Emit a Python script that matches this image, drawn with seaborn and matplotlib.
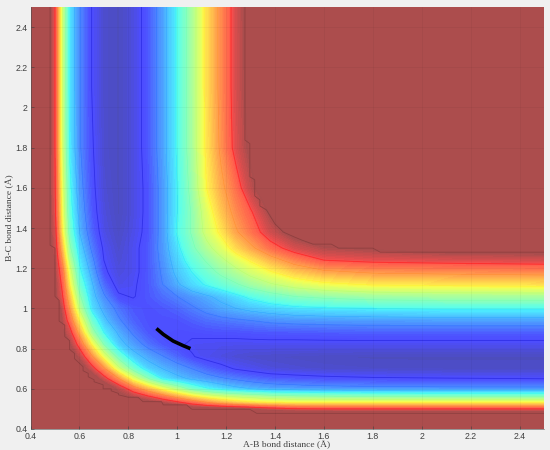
import numpy as np
import pandas as pd
import matplotlib
matplotlib.use("Agg")
import matplotlib.pyplot as plt
from matplotlib.colors import ListedColormap
import seaborn as sns

grid_r = [.40,.47,.50,.53,.56,.60,.65,.70,.76,.82,.88,.94,1.00,1.06,1.12,1.18,1.24,1.30,1.38,1.48,1.60,1.80,2.10,2.50]

surface = [
 [2,2,2,2,2,2,2,2,2,2,2,2,2,2,2,2,2,2,2,2,2,2,2,2],
 [2,2,2,2,2,2,1.95,1.85,1.7,1.55,1.44,1.33,1.27,1.22,1.18,1.15,1.13,1.12,1.10,1.09,1.08,1.07,1.07,1.07],
 [2,2,2,1.95,1.85,1.75,1.65,1.55,1.45,1.35,1.25,1.15,1.08,1.02,1.01,1.0,.99,.97,.93,.90,.89,.89,.89,.89],
 [2,2,1.95,1.85,1.75,1.65,1.5,1.35,1.2,1.07,1.02,.97,.92,.86,.80,.75,.71,.68,.66,.65,.65,.65,.65,.65],
 [2,2,1.9,1.75,1.65,1.55,1.4,1.15,1.02,.97,.91,.84,.76,.68,.62,.58,.55,.53,.50,.48,.47,.46,.45,.45],
 [2,1.95,1.8,1.65,1.5,1.35,1.2,1.07,.96,.84,.73,.62,.52,.42,.36,.32,.29,.27,.25,.24,.23,.225,.22,.22],
 [2,1.85,1.65,1.5,1.35,1.2,1.05,.93,.79,.61,.46,.34,.29,.26,.235,.21,.19,.17,.15,.14,.13,.12,.115,.11],
 [2,1.7,1.5,1.35,1.22,1.05,.93,.80,.58,.42,.31,.27,.235,.20,.16,.13,.105,.09,.07,.06,.05,.045,.04,.04],
 [2,1.6,1.4,1.22,1.05,.96,.80,.61,.42,.30,.25,.205,.16,.115,.09,.075,.06,.05,.045,.04,.035,.03,.03,.03],
 [2,1.5,1.25,1.1,.99,.86,.65,.45,.30,.24,.18,.14,.12,.10,.095,.09,.09,.09,.09,.09,.09,.09,.09,.09],
 [2,1.35,1.2,1.0,.93,.75,.50,.35,.26,.19,.14,.125,.12,.12,.125,.13,.13,.135,.14,.14,.145,.15,.15,.15],
 [2,1.3,1.15,.97,.85,.65,.41,.29,.21,.155,.13,.13,.13,.15,.17,.18,.19,.20,.215,.225,.23,.235,.24,.24],
 [2,1.3,1.1,.94,.78,.54,.33,.25,.18,.14,.13,.14,.16,.19,.22,.25,.27,.29,.31,.33,.34,.35,.36,.36],
 [2,1.25,1.0,.90,.72,.47,.30,.21,.12,.105,.14,.17,.20,.23,.26,.29,.33,.37,.41,.45,.47,.49,.50,.50],
 [2,1.2,1.0,.87,.65,.41,.28,.165,.085,.10,.14,.20,.26,.32,.36,.40,.44,.49,.54,.59,.63,.66,.67,.68],
 [2,1.15,.98,.84,.60,.37,.25,.125,.07,.09,.14,.21,.29,.35,.41,.47,.52,.58,.64,.71,.76,.79,.80,.81],
 [2,1.1,.97,.78,.53,.34,.22,.11,.06,.09,.14,.22,.31,.39,.46,.53,.60,.66,.74,.82,.89,.91,.92,.93],
 [2,1.03,.95,.72,.47,.31,.19,.10,.05,.09,.14,.23,.33,.43,.52,.60,.69,.76,.85,.93,.98,1.0,1.03,1.04],
 [2,1.03,.93,.65,.42,.27,.16,.08,.04,.08,.13,.23,.36,.46,.58,.67,.77,.84,.94,1.03,1.09,1.13,1.16,1.18],
 [2,1.03,.91,.62,.39,.25,.14,.07,.03,.07,.13,.23,.35,.46,.60,.72,.81,.88,1.0,1.08,1.2,1.3,1.35,1.36],
 [2,1.03,.90,.60,.37,.23,.13,.06,.03,.07,.13,.23,.35,.48,.65,.76,.85,.96,1.07,1.17,1.25,1.30,1.34,1.45],
 [2,1.04,.89,.57,.34,.21,.12,.05,.03,.07,.14,.24,.36,.50,.67,.80,.92,1.01,1.12,1.24,1.32,1.40,1.45,1.6],
 [2,1.04,.89,.56,.33,.21,.11,.05,.03,.07,.14,.24,.36,.50,.68,.81,.93,1.03,1.17,1.30,1.42,1.55,1.65,1.7],
 [2,1.04,.89,.56,.33,.21,.11,.05,.03,.07,.14,.24,.36,.50,.68,.81,.93,1.04,1.18,1.32,1.45,1.6,1.7,1.8],
]

path_ab = [.915,.943,.983,1.024,1.054]
path_bc = [.90,.871,.838,.815,.80]

inner_x = [.48,.48,.50,.50,.517,.517,.54,.54,.56,.56,.58,.58,.615,.615,.636,.636,.66,.66,.697,.697,.73,.73,.76,.76,.80,.84,.86,.936,.943,1.038,1.06,1.297,1.325,2.5]
inner_y = [2.5,1.315,1.30,1.06,1.04,.937,.917,.86,.84,.796,.776,.75,.71,.69,.677,.66,.645,.635,.62,.60,.60,.59,.577,.57,.558,.558,.536,.536,.52,.52,.498,.498,.478,.478]
outer_x = [1.277,1.277,1.297,1.297,1.317,1.317,1.338,1.338,1.365,1.40,1.434,1.48,1.51,1.555,1.63,1.66,1.80,1.83,2.5]
outer_y = [2.5,1.838,1.82,1.655,1.64,1.56,1.54,1.51,1.49,1.42,1.38,1.355,1.34,1.32,1.32,1.30,1.30,1.28,1.28]

x_ticks = [.4,.6,.8,1,1.2,1.4,1.6,1.8,2,2.2,2.4]
y_ticks = [.4,.6,.8,1,1.2,1.4,1.6,1.8,2,2.2,2.4]
tick_text = ["0.4","0.6","0.8","1","1.2","1.4","1.6","1.8","2","2.2","2.4"]

sns.set_theme(style="ticks", rc={"figure.facecolor": "#f0f0f0", "axes.linewidth": 0.4})
plt.rcParams["font.family"] = ["Liberation Sans", "DejaVu Sans"]

fig = plt.figure(figsize=(5.5, 4.5), dpi=100)
ax = fig.add_axes([30.5/550, 1-429/450, 513.5/550, 422/450])

jet = plt.get_cmap("jet")(np.linspace(0, 1, 256))
jet[:, :3] = jet[:, :3]*0.7 + 0.3
jet[-1, :3] = [0.675, 0.30, 0.30]
soft_jet = ListedColormap(jet[:, :3])
soft_jet.set_over((0.675, 0.30, 0.30))

Z = np.array(surface)
fill = ax.contourf(grid_r, grid_r, Z, levels=np.linspace(0, 1, 90), cmap=soft_jet, extend="max")
fill.set_edgecolor("face")
fill.set_linewidth(0.5)
ax.contour(grid_r, grid_r, Z, levels=[.11, .89], colors=["#3030e8", "#ff2a2a"], linewidths=0.6)
ax.contour(grid_r, grid_r, Z, levels=[.2, .27, .35, .45, .55, .65, .78], cmap="jet", vmin=0, vmax=1, linewidths=0.35, alpha=0.4)

edge = "#8e3f3f"
sns.lineplot(x=inner_x, y=inner_y, sort=False, estimator=None, color=edge, lw=0.6, ax=ax)
sns.lineplot(x=outer_x, y=outer_y, sort=False, estimator=None, color=edge, lw=0.6, ax=ax)
sns.lineplot(x=path_ab, y=path_bc, sort=False, estimator=None, color="black", lw=2.6, ax=ax, solid_capstyle="butt")

ax.set_xlim(.4, 2.5)
ax.set_ylim(.4, 2.5)
ax.set_xticks(x_ticks, tick_text)
ax.set_yticks(y_ticks, tick_text)
ax.grid(True, color="black", alpha=0.05, lw=0.5)
ax.set_axisbelow(False)
ax.tick_params(direction="in", length=2.5, width=0.4, labelsize=6.3, colors="#404040", pad=2)
for s in ax.spines.values():
    s.set_color("#505050")
ax.spines["top"].set_visible(False)
ax.spines["right"].set_visible(False)

fig.text(287/550, 1-444.5/450, "A-B bond distance (Å)", family="Liberation Serif", fontsize=6.8, color="#404040", ha="center", va="center")
fig.text(10/550, 1-218/450, "B-C bond distance (Å)", family="Liberation Serif", fontsize=6.8, color="#404040", ha="center", va="center", rotation=90)

fig.savefig("out.png", dpi=100, facecolor=fig.get_facecolor())
